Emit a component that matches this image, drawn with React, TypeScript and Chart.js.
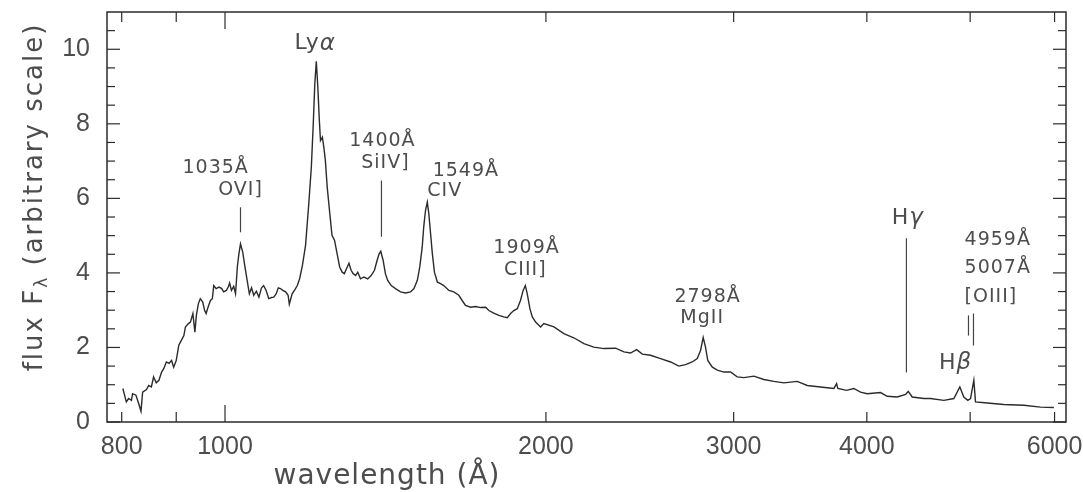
import React, { useEffect, useRef } from "react";
import { Chart, registerables } from "chart.js";

Chart.register(...registerables);

// ---- Spectrum (wavelength in Å, flux in arbitrary units) ----
const WAVELENGTH = [
  802, 808, 812, 817, 819, 825, 830, 834, 837, 844, 848, 853, 857, 862, 867, 872, 876, 881, 886, 891,
  895, 900, 905, 910, 915, 918, 924, 928, 933, 937, 940, 944, 948, 953, 957, 960, 964, 969, 973, 976,
  981, 987, 993, 997, 1003, 1007, 1010, 1014, 1019, 1023, 1027, 1030, 1034, 1039, 1044, 1049, 1054, 1059, 1064, 1070,
  1076, 1082, 1087, 1093, 1099, 1106, 1111, 1117, 1122, 1127, 1133, 1140, 1146, 1149, 1156, 1163, 1169, 1175, 1182, 1190,
  1198, 1205, 1210, 1214, 1218, 1222, 1226, 1229, 1234, 1238, 1242, 1247, 1254, 1260, 1267, 1274, 1281, 1288, 1294, 1300,
  1307, 1313, 1319, 1326, 1332, 1340, 1350, 1361, 1371, 1381, 1389, 1395, 1400, 1407, 1414, 1421, 1432, 1445, 1461, 1477,
  1493, 1504, 1515, 1523, 1531, 1536, 1542, 1548, 1553, 1559, 1565, 1572, 1582, 1593, 1604, 1622, 1639, 1657, 1669, 1681,
  1700, 1718, 1737, 1756, 1768, 1787, 1807, 1826, 1840, 1853, 1866, 1880, 1893, 1904, 1913, 1921, 1932, 1942, 1956, 1977,
  1991, 2035, 2079, 2124, 2171, 2218, 2267, 2325, 2367, 2401, 2433, 2463, 2507, 2562, 2618, 2665, 2704, 2743, 2773, 2793,
  2809, 2823, 2837, 2865, 2896, 2937, 2980, 3023, 3067, 3134, 3202, 3272, 3344, 3442, 3517, 3619, 3725, 3747, 3757, 3828,
  3889, 3946, 4003, 4120, 4180, 4271, 4349, 4374, 4412, 4524, 4590, 4724, 4827, 4890, 4932, 4975, 5004, 5040, 5058, 5188,
  5377, 5615, 5821, 5991,
];
const FLUX = [
  0.90, 0.54, 0.63, 0.58, 0.76, 0.72, 0.49, 0.29, 0.80, 0.87, 0.98, 0.94, 1.21, 1.05, 1.12, 1.34, 1.43, 1.61, 1.57, 1.65,
  1.47, 1.65, 2.06, 2.19, 2.32, 2.55, 2.64, 2.68, 2.91, 2.41, 2.86, 3.17, 3.31, 3.22, 2.99, 2.91, 3.08, 3.26, 3.31, 3.66,
  3.58, 3.62, 3.58, 3.49, 3.53, 3.62, 3.73, 3.53, 3.64, 3.44, 4.16, 4.47, 4.78, 4.56, 4.16, 3.80, 3.44, 3.60, 3.40, 3.51,
  3.35, 3.60, 3.66, 3.53, 3.31, 3.34, 3.35, 3.44, 3.60, 3.58, 3.53, 3.49, 3.40, 3.16, 3.44, 3.55, 3.66, 3.85, 4.20, 4.74,
  5.81, 6.84, 8.00, 9.07, 9.68, 8.98, 8.09, 7.55, 7.64, 7.37, 7.02, 6.30, 5.59, 5.01, 4.87, 4.51, 4.16, 4.02, 3.98, 4.11,
  4.26, 4.07, 3.98, 3.93, 4.02, 3.84, 3.89, 3.84, 3.93, 4.07, 4.34, 4.51, 4.58, 4.34, 3.98, 3.80, 3.66, 3.58, 3.49, 3.46,
  3.49, 3.58, 3.80, 4.16, 4.69, 5.23, 5.68, 5.90, 5.59, 5.05, 4.51, 4.02, 3.75, 3.71, 3.66, 3.53, 3.49, 3.40, 3.26, 3.13,
  3.08, 3.10, 3.07, 3.08, 2.99, 2.92, 2.86, 2.82, 2.80, 2.91, 2.99, 3.04, 3.26, 3.53, 3.66, 3.44, 3.04, 2.82, 2.68, 2.55,
  2.64, 2.55, 2.37, 2.26, 2.10, 2.01, 1.97, 1.98, 1.88, 1.85, 1.94, 1.82, 1.79, 1.70, 1.61, 1.50, 1.54, 1.61, 1.70, 1.92,
  2.27, 2.01, 1.65, 1.47, 1.39, 1.34, 1.34, 1.21, 1.19, 1.23, 1.14, 1.09, 1.05, 1.09, 0.98, 0.94, 0.90, 1.03, 0.90, 0.85,
  0.90, 0.80, 0.76, 0.79, 0.69, 0.67, 0.74, 0.82, 0.67, 0.63, 0.63, 0.58, 0.63, 0.94, 0.67, 0.58, 0.63, 1.12, 0.54, 0.51,
  0.47, 0.45, 0.40, 0.39,
];

// ---- Axes ----
const X_MIN = 775;
const X_MAX = 6150;
const Y_MIN = 0;
const Y_MAX = 11;
const X_TICK_LABELS = [800, 1000, 2000, 3000, 4000, 6000];
const X_MAJOR_MARKS = [1000];
const X_MINOR_MARKS = [800, 900, 2000, 3000, 4000, 5000, 6000];
const Y_TICK_LABELS = [0, 2, 4, 6, 8, 10];
const Y_MINOR_MARKS = [0.5, 1, 1.5, 2.5, 3, 3.5, 4.5, 5, 5.5, 6.5, 7, 7.5, 8.5, 9, 9.5, 10.5];

// ---- Line identifications ----
const LABEL_TEXT = ["1035Å", "OVI]", "1400Å", "SiIV]", "1549Å", "CIV", "1909Å", "CIII]", "2798Å", "MgII", "4959Å", "5007Å", "[OIII]"];
const LABEL_WAVE = [980, 1034, 1405, 1414, 1566, 1548, 1918, 1913, 2836, 2803, 4940, 4940, 4940];
const LABEL_FLUX = [6.80, 6.21, 7.55, 6.96, 6.72, 6.19, 4.68, 4.07, 3.34, 2.78, 4.87, 4.12, 3.34];
const GREEK_BASE = ["Ly", "H", "H"];
const GREEK_LETTER = ["α", "γ", "β"];
const GREEK_WAVE = [1215, 4370, 4845];
const GREEK_FLUX = [10.15, 5.46, 1.57];
const MARK_WAVE = [1034, 1402, 4357, 4982, 5036];
const MARK_TOP = [5.76, 6.48, 4.93, 2.86, 2.91];
const MARK_BOTTOM = [5.09, 4.97, 1.33, 2.32, 2.05];

const INK = "#2b2b2b";
const TEXT = "#4d4d4d";

function drawRich(ctx: CanvasRenderingContext2D, segs: { text: string; font: string; dy?: number }[], x: number, y: number, align: string) {
  const widths = segs.map((s) => {
    ctx.font = s.font;
    return ctx.measureText(s.text).width;
  });
  const total = widths.reduce((a, b) => a + b, 0);
  let cx = align === "center" ? x - total / 2 : align === "right" ? x - total : x;
  ctx.textAlign = "left";
  segs.forEach((s, i) => {
    ctx.font = s.font;
    ctx.fillText(s.text, cx, y + (s.dy || 0));
    cx += widths[i];
  });
}

const noPad = (scale: any) => {
  scale.paddingTop = 0;
  scale.paddingBottom = 0;
  scale.paddingLeft = 0;
  scale.paddingRight = 0;
};

const overlay = {
  id: "overlay",
  afterDraw(chart: any) {
    const { ctx, chartArea: a, scales } = chart;
    const xs = scales.x;
    const ys = scales.y;
    ctx.save();
    const seg = (x0: number, y0: number, x1: number, y1: number) => {
      ctx.beginPath();
      ctx.moveTo(x0, y0);
      ctx.lineTo(x1, y1);
      ctx.stroke();
    };
    // frame
    ctx.strokeStyle = INK;
    ctx.lineWidth = 1.5;
    ctx.strokeRect(a.left, a.top, a.right - a.left, a.bottom - a.top);
    // inward ticks
    ctx.lineWidth = 1.2;
    X_MAJOR_MARKS.forEach((v) => {
      const p = xs.getPixelForValue(v);
      seg(p, a.bottom, p, a.bottom - 17);
      seg(p, a.top, p, a.top + 17);
    });
    X_MINOR_MARKS.forEach((v) => {
      const p = xs.getPixelForValue(v);
      seg(p, a.bottom, p, a.bottom - 10);
      seg(p, a.top, p, a.top + 10);
    });
    Y_TICK_LABELS.forEach((v) => {
      const p = ys.getPixelForValue(v);
      seg(a.left, p, a.left + 13, p);
      seg(a.right, p, a.right - 13, p);
    });
    Y_MINOR_MARKS.forEach((v) => {
      const p = ys.getPixelForValue(v);
      seg(a.left, p, a.left + 8, p);
      seg(a.right, p, a.right - 8, p);
    });
    // identification marker lines
    ctx.strokeStyle = "#444";
    ctx.lineWidth = 1.2;
    MARK_WAVE.forEach((w, i) => {
      const px = xs.getPixelForValue(w);
      seg(px, ys.getPixelForValue(MARK_TOP[i]), px, ys.getPixelForValue(MARK_BOTTOM[i]));
    });
    // labels
    ctx.fillStyle = TEXT;
    ctx.textBaseline = "middle";
    (ctx as any).letterSpacing = "1px";
    const leftAligned = new Set(["1549Å", "CIV", "4959Å", "5007Å", "[OIII]"]);
    LABEL_TEXT.forEach((t, i) => {
      const px = xs.getPixelForValue(LABEL_WAVE[i]);
      const py = ys.getPixelForValue(LABEL_FLUX[i]);
      drawRich(ctx, [{ text: t, font: "19px 'DejaVu Sans'" }], px, py, leftAligned.has(t) ? "left" : "center");
    });
    GREEK_BASE.forEach((b, i) => {
      const px = xs.getPixelForValue(GREEK_WAVE[i]);
      const py = ys.getPixelForValue(GREEK_FLUX[i]);
      drawRich(
        ctx,
        [
          { text: b, font: "22px 'DejaVu Sans'" },
          { text: GREEK_LETTER[i], font: "italic 23px 'DejaVu Sans'" },
        ],
        px,
        py,
        "center"
      );
    });
    // axis titles
    ctx.textBaseline = "alphabetic";
    (ctx as any).letterSpacing = "1px";
    drawRich(ctx, [{ text: "wavelength (Å)", font: "28px 'DejaVu Sans'" }], a.left + 280, 484, "center");
    ctx.translate(42, a.top + 185);
    ctx.rotate(-Math.PI / 2);
    (ctx as any).letterSpacing = "2px";
    drawRich(
      ctx,
      [
        { text: "flux F", font: "26px 'DejaVu Sans'" },
        { text: "λ", font: "17px 'DejaVu Sans'", dy: 5 },
        { text: " (arbitrary scale)", font: "26px 'DejaVu Sans'" },
      ],
      0,
      0,
      "center"
    );
    ctx.restore();
  },
};

export default function App() {
  const ref = useRef<HTMLCanvasElement | null>(null);
  useEffect(() => {
    if (!ref.current) return;
    const points = WAVELENGTH.map((w, i) => ({ x: w, y: FLUX[i] }));
    const chart = new Chart(ref.current, {
      type: "line",
      data: {
        datasets: [
          {
            data: points,
            borderColor: INK,
            borderWidth: 1.4,
            pointRadius: 0,
            tension: 0,
            fill: false,
          },
        ],
      },
      options: {
        animation: false,
        responsive: false,
        layout: { padding: { top: 12, right: 17, left: 0, bottom: 0 } },
        plugins: { legend: { display: false }, tooltip: { enabled: false } },
        scales: {
          x: {
            type: "logarithmic",
            min: X_MIN,
            max: X_MAX,
            grid: { display: false, drawTicks: false },
            border: { display: false },
            afterBuildTicks: (axis: any) => {
              axis.ticks = X_TICK_LABELS.map((v) => ({ value: v }));
            },
            afterFit: (scale: any) => {
              scale.height = 70;
              noPad(scale);
            },
            ticks: {
              autoSkip: false,
              maxRotation: 0,
              padding: 10,
              color: TEXT,
              font: { family: "'Liberation Sans'", size: 25 },
              callback: (v: any) => String(v),
            },
          },
          y: {
            type: "linear",
            min: Y_MIN,
            max: Y_MAX,
            grid: { display: false, drawTicks: false },
            border: { display: false },
            afterBuildTicks: (axis: any) => {
              axis.ticks = Y_TICK_LABELS.map((v) => ({ value: v }));
            },
            afterFit: (scale: any) => {
              scale.width = 107;
              noPad(scale);
            },
            ticks: {
              padding: 17,
              color: TEXT,
              font: { family: "'Liberation Sans'", size: 25 },
              callback: (v: any) => String(v),
            },
          },
        },
      },
      plugins: [overlay],
    });
    return () => chart.destroy();
  }, []);
  return (
    <div style={{ position: "absolute", left: 0, top: 0, width: 1083, height: 492, background: "#fff" }}>
      <canvas ref={ref} width={1083} height={492} style={{ width: 1083, height: 492 }} />
    </div>
  );
}
